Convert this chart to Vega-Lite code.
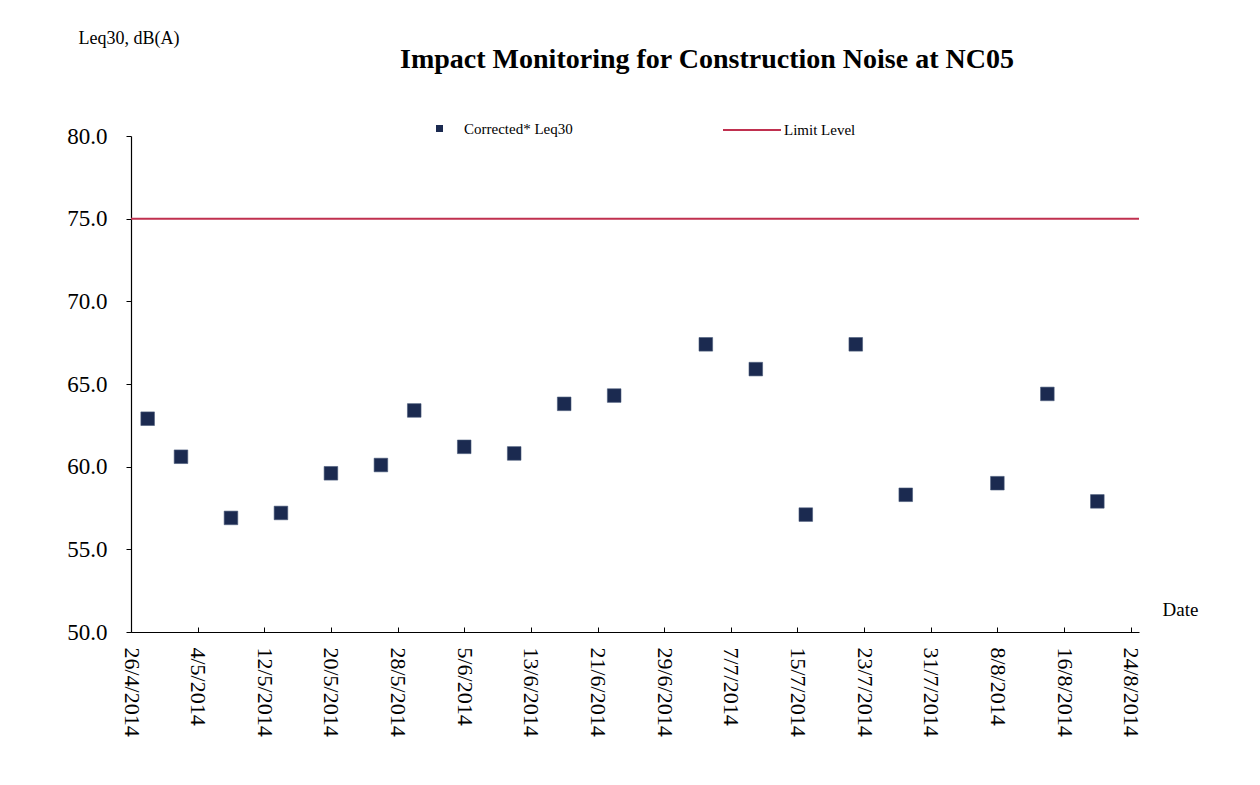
{
  "$schema": "https://vega.github.io/schema/vega-lite/v6.json",
  "autosize": "none",
  "width": 1008,
  "height": 496,
  "padding": {"left": 131, "top": 136, "right": 121, "bottom": 153},
  "background": "white",
  "config": {
    "view": {"stroke": null},
    "font": "Liberation Serif",
    "axis": {"grid": false, "domainColor": "#000", "tickColor": "#000", "labelColor": "#000", "titleColor": "#000", "labelFont": "Liberation Serif", "titleFont": "Liberation Serif", "titleFontWeight": "normal"},
    "legend": {"labelFont": "Liberation Serif", "labelColor": "#000", "padding": 0}
  },
  "title": {
    "text": "Impact Monitoring for Construction Noise at NC05",
    "font": "Liberation Serif",
    "fontSize": 28,
    "fontWeight": "bold",
    "color": "#000",
    "frame": "group",
    "anchor": "middle",
    "dx": 72,
    "offset": -45
  },
  "layer": [
    {
      "data": {"values": [
        {"date": "2014-04-28", "leq": 62.9},
        {"date": "2014-05-02", "leq": 60.6},
        {"date": "2014-05-08", "leq": 56.9},
        {"date": "2014-05-14", "leq": 57.2},
        {"date": "2014-05-20", "leq": 59.6},
        {"date": "2014-05-26", "leq": 60.1},
        {"date": "2014-05-30", "leq": 63.4},
        {"date": "2014-06-05", "leq": 61.2},
        {"date": "2014-06-11", "leq": 60.8},
        {"date": "2014-06-17", "leq": 63.8},
        {"date": "2014-06-23", "leq": 64.3},
        {"date": "2014-07-04", "leq": 67.4},
        {"date": "2014-07-10", "leq": 65.9},
        {"date": "2014-07-16", "leq": 57.1},
        {"date": "2014-07-22", "leq": 67.4},
        {"date": "2014-07-28", "leq": 58.3},
        {"date": "2014-08-08", "leq": 59.0},
        {"date": "2014-08-14", "leq": 64.4},
        {"date": "2014-08-20", "leq": 57.9}
      ]},
      "mark": {"type": "point", "shape": "square", "filled": true, "size": 185, "opacity": 1, "stroke": "#4a5a7a", "strokeWidth": 0.6},
      "encoding": {
        "x": {
          "field": "date",
          "type": "temporal",
          "scale": {"type": "utc", "domain": [
            {"year": 2014, "month": 4, "date": 26, "utc": true},
            {"year": 2014, "month": 8, "date": 25, "utc": true}
          ]},
          "axis": {
            "title": "Date",
            "titleFontSize": 19,
            "titleAngle": 0,
            "titleAlign": "left",
            "titleBaseline": "middle",
            "titleX": 1031,
            "titleY": -23,
            "labelExpr": "utcFormat(datum.value, '%-d/%-m/%Y')",
            "labelAngle": 90,
            "labelAlign": "left",
            "labelBaseline": "middle",
            "labelFontSize": 22,
            "labelPadding": 20,
            "labelOverlap": false,
            "labelFlush": false,
            "tickSize": -5,
            "domainWidth": 1.2,
            "values": [
              {"year": 2014, "month": 4, "date": 26, "utc": true},
              {"year": 2014, "month": 5, "date": 4, "utc": true},
              {"year": 2014, "month": 5, "date": 12, "utc": true},
              {"year": 2014, "month": 5, "date": 20, "utc": true},
              {"year": 2014, "month": 5, "date": 28, "utc": true},
              {"year": 2014, "month": 6, "date": 5, "utc": true},
              {"year": 2014, "month": 6, "date": 13, "utc": true},
              {"year": 2014, "month": 6, "date": 21, "utc": true},
              {"year": 2014, "month": 6, "date": 29, "utc": true},
              {"year": 2014, "month": 7, "date": 7, "utc": true},
              {"year": 2014, "month": 7, "date": 15, "utc": true},
              {"year": 2014, "month": 7, "date": 23, "utc": true},
              {"year": 2014, "month": 7, "date": 31, "utc": true},
              {"year": 2014, "month": 8, "date": 8, "utc": true},
              {"year": 2014, "month": 8, "date": 16, "utc": true},
              {"year": 2014, "month": 8, "date": 24, "utc": true}
            ]
          }
        },
        "y": {
          "field": "leq",
          "type": "quantitative",
          "scale": {"domain": [50, 80], "nice": false, "zero": false},
          "axis": {
            "title": "Leq30, dB(A)",
            "titleFontSize": 18,
            "titleAngle": 0,
            "titleAlign": "left",
            "titleBaseline": "middle",
            "titleX": -53,
            "titleY": -98,
            "values": [50, 55, 60, 65, 70, 75, 80],
            "format": ".1f",
            "labelFontSize": 23,
            "labelPadding": 19,
            "tickSize": 5,
            "domainWidth": 1.2
          }
        },
        "fill": {
          "datum": "Corrected* Leq30",
          "scale": {"range": ["#1b2a50"]},
          "legend": {
            "title": null,
            "orient": "none",
            "legendX": 301,
            "legendY": -15,
            "symbolType": "square",
            "symbolSize": 49,
            "symbolStrokeWidth": 0,
            "labelFontSize": 15,
            "labelOffset": 17
          }
        }
      }
    },
    {
      "data": {"values": [{"level": 75}]},
      "mark": {"type": "rule", "strokeWidth": 2},
      "encoding": {
        "y": {"field": "level", "type": "quantitative"},
        "stroke": {
          "datum": "Limit Level",
          "scale": {"range": ["#c0304f"]},
          "legend": {
            "title": null,
            "orient": "none",
            "legendX": 591,
            "legendY": -36,
            "symbolType": "stroke",
            "symbolSize": 3364,
            "symbolStrokeWidth": 2,
            "labelFontSize": 15,
            "labelOffset": 2
          }
        }
      }
    }
  ]
}
